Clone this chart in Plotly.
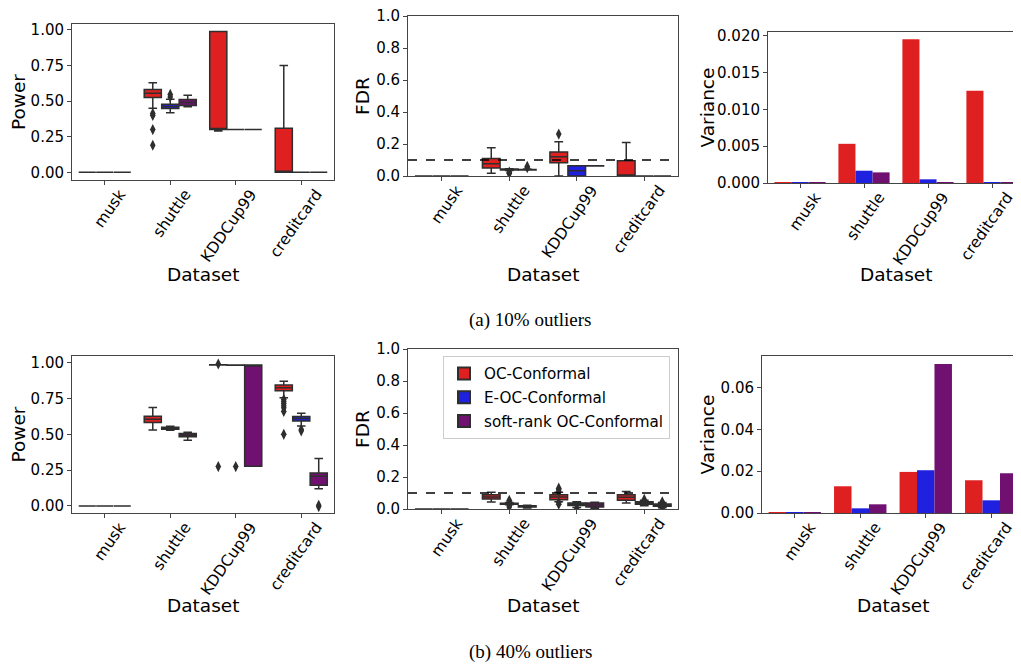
import plotly.graph_objects as go

W, H = 1021, 666
# the page body adds an 8px margin around the figure; positions below are in
# screen pixels and are shifted to compensate
OX, OY = -8, -8

DATASETS = ["musk", "shuttle", "KDDCup99", "creditcard"]
METHODS = ["OC-Conformal", "E-OC-Conformal", "soft-rank OC-Conformal"]
COLORS = ["rgb(223,32,32)", "rgb(32,32,223)", "rgb(112,16,112)"]
GRAY = "#2e2e2e"
SPINE = "#444444"

# ---------------- (a) 10% outliers ----------------
# Power: per method, per dataset  [musk, shuttle, KDDCup99, creditcard]
pow10_lo = [[0, 0.45, 0.29, 0], [0, 0.418, 0.30, 0], [0, 0.46, 0.30, 0]]
pow10_q1 = [[0, 0.526, 0.30, 0], [0, 0.449, 0.30, 0], [0, 0.47, 0.30, 0]]
pow10_med = [[0, 0.556, 0.30, 0], [0, 0.463, 0.30, 0], [0, 0.49, 0.30, 0]]
pow10_q3 = [[0, 0.582, 0.99, 0.31], [0, 0.479, 0.30, 0], [0, 0.512, 0.30, 0]]
pow10_hi = [[0, 0.63, 0.99, 0.75], [0, 0.514, 0.30, 0], [0, 0.542, 0.30, 0]]
pow10_out = [[[], [0.414, 0.40, 0.30, 0.19], [], []],
             [[], [0.547, 0.53], [], []],
             [[], [], [], []]]

# FDR
fdr10_lo = [[0, 0.017, 0.0, 0], [0, 0.035, 0.0, 0], [0, 0.037, 0.062, 0]]
fdr10_q1 = [[0, 0.05, 0.083, 0], [0, 0.037, 0.0, 0], [0, 0.038, 0.062, 0]]
fdr10_med = [[0, 0.077, 0.12, 0], [0, 0.04, 0.033, 0], [0, 0.039, 0.063, 0]]
fdr10_q3 = [[0, 0.11, 0.15, 0.096], [0, 0.044, 0.064, 0], [0, 0.041, 0.064, 0]]
fdr10_hi = [[0, 0.177, 0.214, 0.21], [0, 0.046, 0.064, 0], [0, 0.043, 0.064, 0]]
fdr10_out = [[[], [], [0.262], []],
             [[], [0.015, 0.02, 0.025], [], []],
             [[], [0.06, 0.052], [], []]]

# Variance
var10 = [[0.00005, 0.00532, 0.0195, 0.01252],
         [0.00003, 0.00167, 0.0005, 0.00005],
         [0.00003, 0.00144, 0.00003, 0.00003]]

# ---------------- (b) 40% outliers ----------------
pow40_lo = [[0, 0.531, 0.984, 0.755], [0, 0.529, 0.982, 0.559], [0, 0.459, 0.277, 0.121]]
pow40_q1 = [[0, 0.583, 0.984, 0.804], [0, 0.536, 0.982, 0.594], [0, 0.483, 0.277, 0.145]]
pow40_med = [[0, 0.606, 0.985, 0.825], [0, 0.543, 0.983, 0.611], [0, 0.494, 0.985, 0.207]]
pow40_q3 = [[0, 0.627, 0.986, 0.844], [0, 0.55, 0.984, 0.625], [0, 0.506, 0.985, 0.231]]
pow40_hi = [[0, 0.688, 0.986, 0.87], [0, 0.557, 0.984, 0.648], [0, 0.515, 0.985, 0.331]]
pow40_out = [[[], [], [0.991, 0.275], [0.744, 0.73, 0.715, 0.70, 0.685, 0.66, 0.50]],
             [[], [], [0.275], [0.534, 0.525]],
             [[], [], [], [0.005, -0.004]]]

fdr40_lo = [[0, 0.044, 0.045, 0.037], [0, 0.027, 0.01, 0.02], [0, 0.006, 0.005, 0.008]]
fdr40_q1 = [[0, 0.062, 0.058, 0.054], [0, 0.03, 0.022, 0.029], [0, 0.012, 0.012, 0.017]]
fdr40_med = [[0, 0.075, 0.075, 0.073], [0, 0.033, 0.03, 0.037], [0, 0.016, 0.025, 0.025]]
fdr40_q3 = [[0, 0.089, 0.089, 0.089], [0, 0.036, 0.037, 0.046], [0, 0.02, 0.037, 0.031]]
fdr40_hi = [[0, 0.104, 0.105, 0.11], [0, 0.04, 0.045, 0.055], [0, 0.024, 0.042, 0.04]]
fdr40_out = [[[], [], [0.13, 0.12, 0.11, 0.04, 0.03], []],
             [[], [0.054, 0.045, 0.02, 0.012], [0.005], [0.06]],
             [[], [], [], [0.045, 0.005]]]

var40 = [[0.0002, 0.01277, 0.01963, 0.01564],
         [0.0002, 0.00223, 0.02043, 0.00606],
         [0.0002, 0.00415, 0.0712, 0.01899]]

TARGET_FDR = 0.1
X_TITLE = "Dataset"

# ---------------- layout geometry (screen pixels) ----------------
PANELS = {
    1: (72, 334, 24, 180),
    2: (408, 678, 16, 176),
    3: (768, 1024, 32, 183),
    4: (72, 334, 356, 513),
    5: (408, 678, 349, 509),
    6: (762, 1024, 356, 513),
}
# axis-title centres (screen px): x-title y, y-title x
XTITLE_Y = {1: 274, 2: 274, 3: 274, 4: 605, 5: 605, 6: 605}
YTITLE_X = {1: 18, 2: 363, 3: 707, 4: 18, 5: 363, 6: 707}

OFFSETS = [-0.8 / 3, 0.0, 0.8 / 3]
BOXW = 0.8 / 3 * 0.98

FONT = "DejaVu Sans"
TICKSIZE = 15
XTICKSIZE = 15.5
TITLESIZE = 18.5


def px(x):
    return (x + OX) / W


def py(y):
    return 1 - (y + OY) / H


def ax(letter, n):
    return letter if n == 1 else f"{letter}{n}"


fig = go.Figure()


def add_boxes(n, lo, q1, med, q3, hi, out, legend=False):
    for m in range(3):
        xs = [i + OFFSETS[m] for i in range(len(DATASETS))]
        fig.add_trace(go.Box(
            x=xs, q1=q1[m], median=med[m], q3=q3[m],
            lowerfence=lo[m], upperfence=hi[m],
            width=BOXW, fillcolor=COLORS[m],
            line=dict(color=GRAY, width=1.5),
            whiskerwidth=0.5, boxpoints=False,
            name=METHODS[m], legendgroup=METHODS[m], showlegend=legend,
            xaxis=ax("x", n), yaxis=ax("y", n), hoverinfo="skip",
        ))
        ox, oy = [], []
        for i, pts in enumerate(out[m]):
            for p in pts:
                ox.append(i + OFFSETS[m])
                oy.append(p)
        if ox:
            fig.add_trace(go.Scatter(
                x=ox, y=oy, mode="markers",
                marker=dict(symbol="diamond-tall", size=8, color=GRAY),
                showlegend=False, xaxis=ax("x", n), yaxis=ax("y", n), hoverinfo="skip",
            ))


def add_bars(n, vals):
    for m in range(3):
        fig.add_trace(go.Bar(
            x=DATASETS, y=vals[m], marker=dict(color=COLORS[m], line=dict(width=0)),
            name=METHODS[m], showlegend=False, offsetgroup=str(m),
            xaxis=ax("x", n), yaxis=ax("y", n), hoverinfo="skip",
        ))


add_boxes(1, pow10_lo, pow10_q1, pow10_med, pow10_q3, pow10_hi, pow10_out)
add_boxes(2, fdr10_lo, fdr10_q1, fdr10_med, fdr10_q3, fdr10_hi, fdr10_out)
add_bars(3, var10)
add_boxes(4, pow40_lo, pow40_q1, pow40_med, pow40_q3, pow40_hi, pow40_out)
add_boxes(5, fdr40_lo, fdr40_q1, fdr40_med, fdr40_q3, fdr40_hi, fdr40_out, legend=True)
add_bars(6, var40)

YCFG = {
    1: dict(range=[-0.054, 1.042], dtick=0.25, tickformat=".2f", title="Power"),
    2: dict(range=[0, 1], dtick=0.2, tickformat=".1f", title="FDR"),
    3: dict(range=[0, 0.0205], dtick=0.005, tickformat=".3f", title="Variance"),
    4: dict(range=[-0.049, 1.047], dtick=0.25, tickformat=".2f", title="Power"),
    5: dict(range=[0, 1], dtick=0.2, tickformat=".1f", title="FDR"),
    6: dict(range=[0, 0.075], dtick=0.02, tickformat=".2f", title="Variance"),
}

axis_common = dict(
    showline=True, linecolor=SPINE, linewidth=1, mirror=True,
    ticks="outside", ticklen=4, tickcolor=SPINE, tickwidth=1,
    showgrid=False, zeroline=False, automargin=False, ticklabeloverflow="allow",
    tickfont=dict(family=FONT, size=TICKSIZE, color="black"),
)

layout = dict(
    width=W, height=H, margin=dict(l=0, r=0, t=0, b=0, pad=0),
    paper_bgcolor="white", plot_bgcolor="white",
    font=dict(family=FONT, color="black"),
    boxmode="overlay", barmode="group", bargap=0.2, bargroupgap=0,
    showlegend=True,
    legend=dict(
        x=px(670), y=py(356), xanchor="right", yanchor="top",
        bgcolor="rgba(255,255,255,0.8)", bordercolor="#cccccc", borderwidth=1,
        font=dict(family=FONT, size=15.2, color="black"),
        tracegroupgap=1, itemsizing="constant",
    ),
)

annotations = []
for n, (x0, x1, y0, y1) in PANELS.items():
    xa = dict(axis_common)
    xa.update(domain=[max(0, px(x0)), min(1, px(x1))], anchor=ax("y", n), tickangle=-55,
              ticklabelshift=15, ticklabelstandoff=-6,
              tickfont=dict(family=FONT, size=XTICKSIZE, color="black"))
    if n in (3, 6):
        xa.update(type="category", range=[-0.5, 3.5])
    else:
        xa.update(range=[-0.5, 3.5], tickvals=list(range(len(DATASETS))), ticktext=DATASETS)
    ya = dict(axis_common)
    c = YCFG[n]
    ya.update(
        domain=[py(y1), py(y0)], anchor=ax("x", n), range=c["range"],
        dtick=c["dtick"], tick0=0, tickformat=c["tickformat"],
    )
    layout[f"xaxis{'' if n == 1 else n}"] = xa
    layout[f"yaxis{'' if n == 1 else n}"] = ya
    annotations.append(dict(
        text=X_TITLE, xref=ax("x", n) + " domain", x=0.5, yref="paper", y=py(XTITLE_Y[n]),
        xanchor="center", yanchor="middle", showarrow=False,
        font=dict(family=FONT, size=TITLESIZE, color="black"),
    ))
    annotations.append(dict(
        text=c["title"], xref="paper", x=px(YTITLE_X[n]), yref=ax("y", n) + " domain", y=0.5,
        xanchor="center", yanchor="middle", showarrow=False, textangle=-90,
        font=dict(family=FONT, size=TITLESIZE, color="black"),
    ))

annotations.append(dict(text="(a) 10% outliers", x=px(530), y=py(320), xref="paper", yref="paper",
                        xanchor="center", yanchor="middle", showarrow=False,
                        font=dict(family="Liberation Serif", size=19, color="black")))
annotations.append(dict(text="(b) 40% outliers", x=px(530), y=py(652), xref="paper", yref="paper",
                        xanchor="center", yanchor="middle", showarrow=False,
                        font=dict(family="Liberation Serif", size=19, color="black")))
layout["annotations"] = annotations

fig.update_layout(**layout)

for n in (2, 5):
    fig.add_shape(type="line", xref=ax("x", n) + " domain", yref=ax("y", n), x0=0, x1=1,
                  y0=TARGET_FDR, y1=TARGET_FDR,
                  line=dict(color="black", width=1.3, dash="dash"))

fig.write_html("out.html")
